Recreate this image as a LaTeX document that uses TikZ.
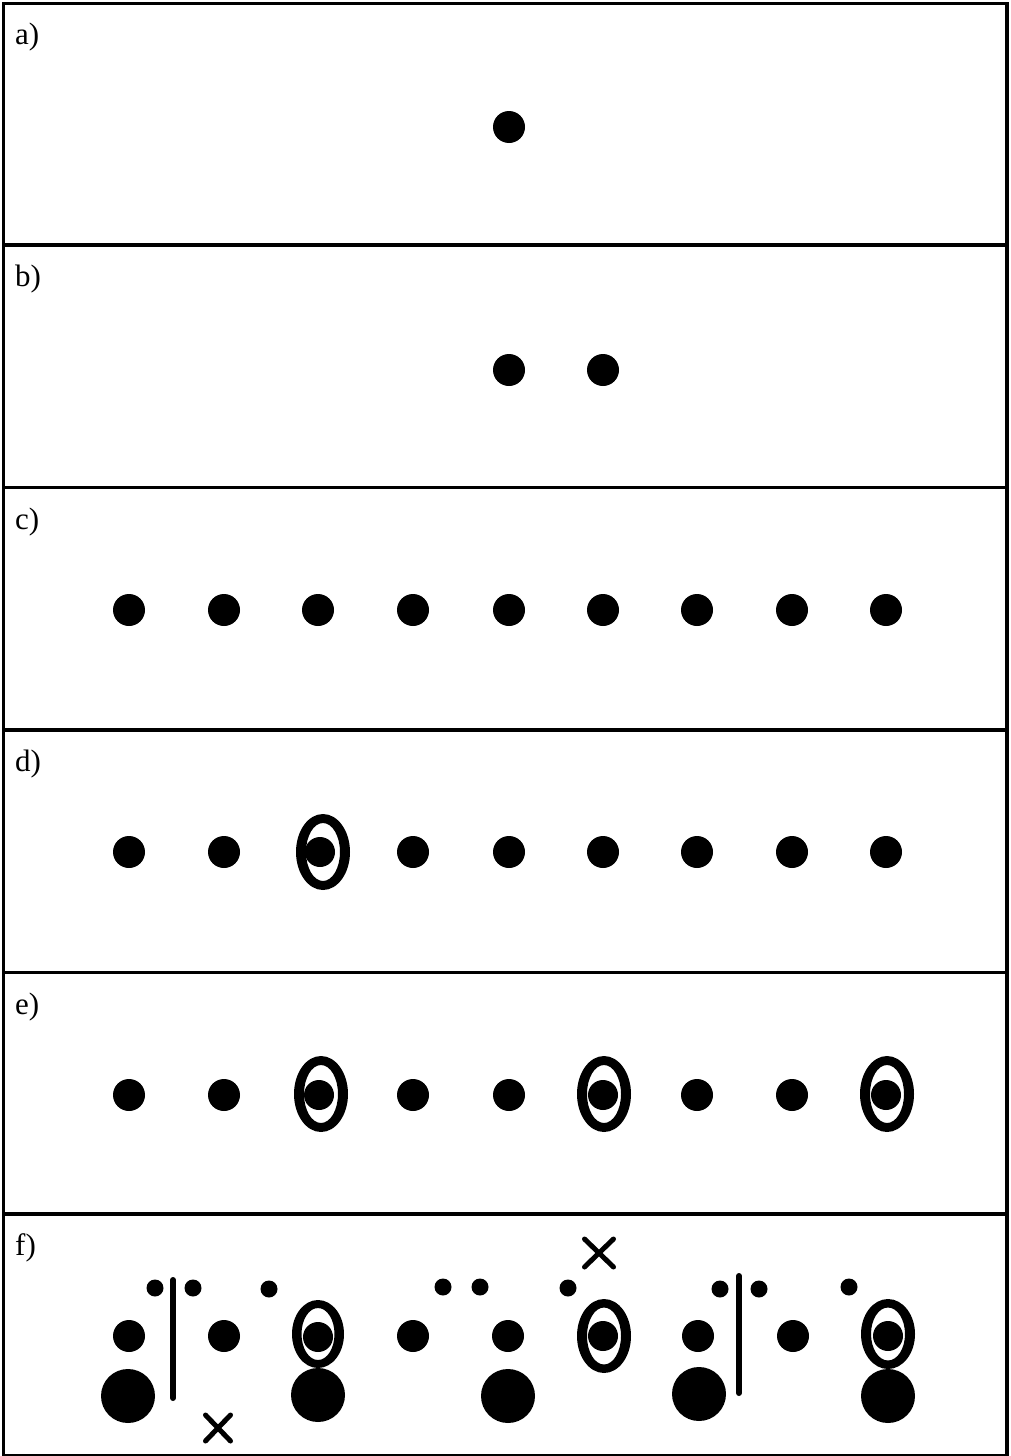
\documentclass[tikz,border=0pt]{standalone}
\usepackage{fontspec}
\setmainfont{Liberation Serif}
\usetikzlibrary{shapes.geometric,shapes.misc}
\newcommand\myring[5]{\fill[black,even odd rule] (#1) ellipse [x radius=#2pt,y radius=#3pt] (#1) ellipse [x radius=#4pt,y radius=#5pt];}
\begin{document}
\begin{tikzpicture}[x=1pt,y=-1pt,
  dot/.style={circle,fill=black,inner sep=0pt,minimum size=32pt},
  indot/.style={circle,fill=black,inner sep=0pt,minimum size=30pt},
  smalldot/.style={circle,fill=black,inner sep=0pt,minimum size=17pt},
  bigdot/.style={circle,fill=black,inner sep=0pt,minimum size=54pt},
  ring/.style={ellipse,inner sep=0pt,minimum width=54pt,minimum height=76pt},
  xmark/.style={cross out,draw=black,line width=5pt,inner sep=0pt,minimum width=20pt,minimum height=21pt,line cap=round},
  bar/.style={line width=6pt,line cap=round},
  frame/.style={line width=3.5pt},
  lab/.style={anchor=base west,inner sep=0pt,font=\fontsize{31}{31}\selectfont}]
\useasboundingbox (0,0) rectangle (1011,1456);
\fill[white] (0,0) rectangle (1011,1456);
% panels
\draw[frame] (3.5,3.5) rectangle (1007,1456);
\foreach \y in {245,487.5,730,972.5,1214} \draw[frame] (3.5,\y) -- (1007,\y);
% labels
\node[lab] (la) at (15,44) {a)};
\node[lab] (lb) at (15,286) {b)};
\node[lab] (lc) at (15,529) {c)};
\node[lab] (ld) at (15,771) {d)};
\node[lab] (le) at (15,1014) {e)};
\node[lab] (lf) at (15,1255) {f)};
% a
\node[dot] (a1) at (509,127) {};
% b
\node[dot] (b1) at (509,370) {};
\node[dot] (b2) at (603,370) {};
% c row
\foreach \i/\x in {1/129,2/224,3/318,4/413,5/509,6/603,7/697,8/792,9/886}{
  \node[dot] (c\i) at (\x,610) {};
}
% d row
\foreach \i/\x in {1/129,2/224,4/413,5/509,6/603,7/697,8/792,9/886}{
  \node[dot] (d\i) at (\x,852) {};
}
\node[indot] (d3) at (320,852) {};
% e row
\foreach \i/\x in {1/129,2/224,4/413,5/509,7/697,8/792}{
  \node[dot] (e\i) at (\x,1095) {};
}
\node[indot] (e3) at (319,1095) {};
\node[indot] (e6) at (603,1095) {};
\node[indot] (e9) at (886,1095) {};
\node[ring] (dr3) at (323,852) {};
\node[ring] (er3) at (321,1094) {};
\node[ring] (er6) at (604,1094) {};
\node[ring] (er9) at (887,1094) {};
\myring{dr3.center}{27}{38}{17}{29}
\myring{er3.center}{27}{38}{17}{29}
\myring{er6.center}{27}{38}{17}{29}
\myring{er9.center}{27}{38}{17}{29}
% f
\foreach \i/\x in {1/129,2/224,4/413,5/508,7/698,8/793}{
  \node[dot] (f\i) at (\x,1336) {};
}
\node[indot] (f3) at (318,1337) {};
\node[indot] (f6) at (603,1336) {};
\node[indot] (f9) at (888,1336) {};
\node[bigdot] (F1) at (128,1396) {};
\node[bigdot] (F3) at (318,1395) {};
\node[bigdot] (F5) at (508,1396) {};
\node[bigdot] (F7) at (699,1394) {};
\node[bigdot] (F9) at (888,1396) {};
\node[ring,minimum width=52pt,minimum height=68pt] (fr3) at (318,1334) {};
\node[ring,minimum width=54pt,minimum height=74pt] (fr6) at (604,1336) {};
\node[ring,minimum width=54pt,minimum height=70pt] (fr9) at (888,1334) {};
\myring{fr3.center}{26}{34}{16.5}{26}
\myring{fr6.center}{27}{37}{17}{28.5}
\myring{fr9.center}{27}{35}{17}{26.5}
\node[smalldot] (s1) at (155,1288) {};
\node[smalldot] (s2) at (193,1288) {};
\node[smalldot] (s3) at (269,1289) {};
\node[smalldot] (s4) at (443,1287) {};
\node[smalldot] (s5) at (480,1287) {};
\node[smalldot] (s6) at (568,1288) {};
\node[smalldot] (s7) at (720,1289) {};
\node[smalldot] (s8) at (759,1289) {};
\node[smalldot] (s9) at (849,1287) {};
\coordinate (v1t) at (173,1280);
\coordinate (v1b) at (173,1398);
\coordinate (v2t) at (739,1276);
\coordinate (v2b) at (739,1393);
\draw[bar] (v1t) -- (v1b);
\draw[bar] (v2t) -- (v2b);
\node[xmark] (x1) at (218,1428) {};
\node[xmark,minimum width=24pt,minimum height=23pt] (x2) at (599,1253) {};
\end{tikzpicture}
\end{document}
